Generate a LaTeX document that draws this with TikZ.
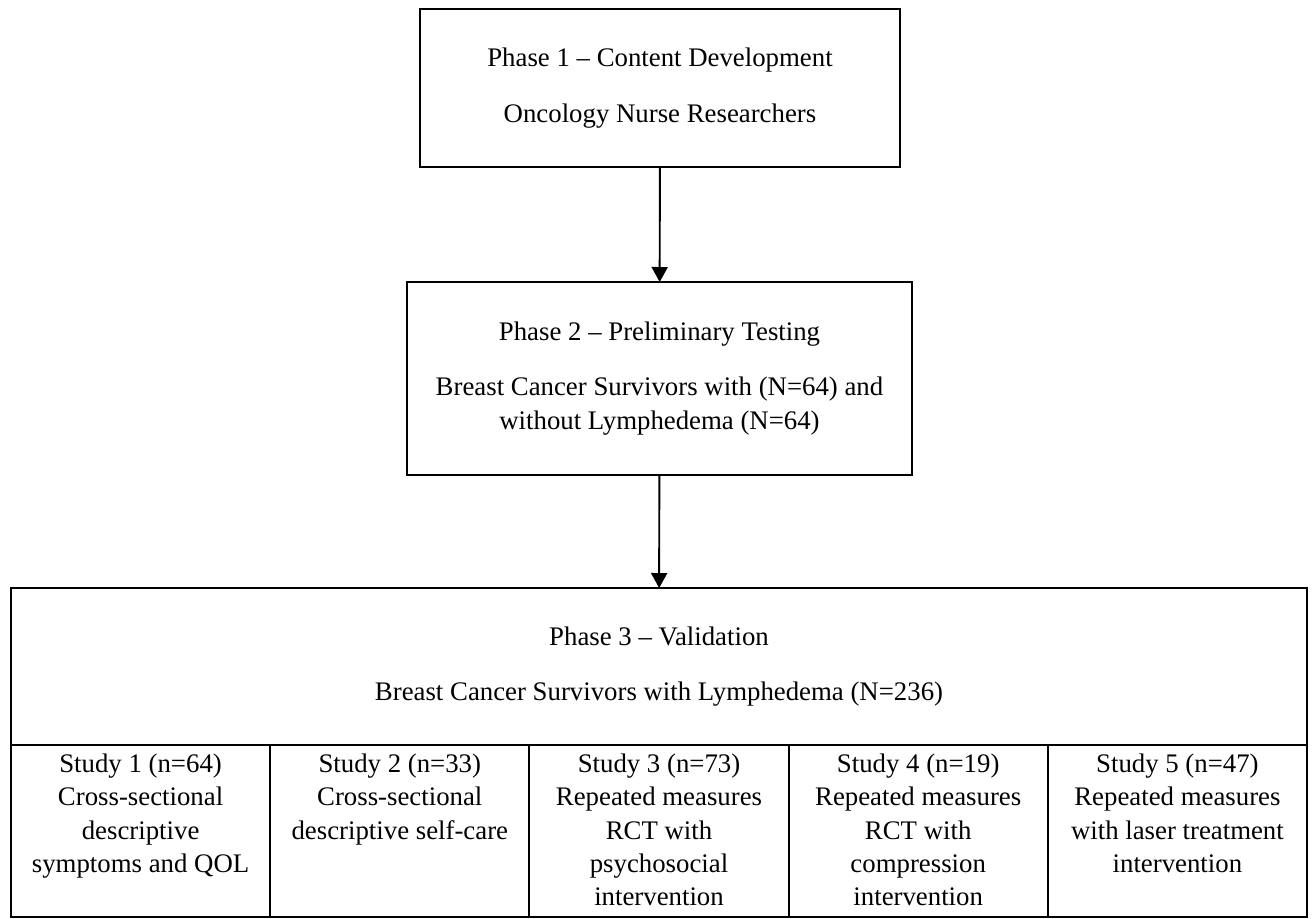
\documentclass[tikz,border=0pt]{standalone}
\usepackage{fontspec}
\setmainfont{Liberation Serif}
\usetikzlibrary{arrows.meta,positioning}

\newcommand{\studytext}[1]{\parbox[c][3.44cm][t]{5.1cm}{\centering\vspace*{5pt}#1}}

\begin{document}
\begin{tikzpicture}[-{Triangle[length=3mm,width=3.2mm]},line width=1.1pt,
font=\fontsize{15.25}{19}\selectfont]
\tikzstyle{phase}=[draw,line width=1.6pt,align=center,inner sep=0pt,outer sep=0pt]
\tikzstyle{study}=[draw,line width=1.2pt,inner sep=0pt,outer sep=0pt,
minimum width=5.184cm,minimum height=3.44cm]

\useasboundingbox (0,0) rectangle (26.28,-18.36);

\node[phase,minimum width=9.6cm,minimum height=3.16cm]  (dev)   at (13.2,-1.76)
{Phase 1 -- Content Development\\[12.5pt] Oncology Nurse Researchers};
\node[phase,minimum width=10.1cm,minimum height=3.86cm] (test)  at (13.19,-7.57)
{Phase 2 -- Preliminary Testing\\[12.5pt] Breast Cancer Survivors with (N=64) and\\ without Lymphedema (N=64)};
\node[phase,line width=1.2pt,minimum width=25.92cm,minimum height=3.14cm] (valid) at (13.18,-13.33)
{Phase 3 -- Validation\\[12.5pt] Breast Cancer Survivors with Lymphedema (N=236)};

% studies under phase 3
\node[study,anchor=north west] (s1) at (valid.south west)
{\studytext{Study 1 (n=64)\\ Cross-sectional\\ descriptive\\ symptoms and QOL}};
\node[study,right=0pt of s1] (s2)
{\studytext{Study 2 (n=33)\\ Cross-sectional\\ descriptive self-care}};
\node[study,right=0pt of s2] (s3)
{\studytext{Study 3 (n=73)\\ Repeated measures\\ RCT with\\ psychosocial\\ intervention}};
\node[study,right=0pt of s3] (s4)
{\studytext{Study 4 (n=19)\\ Repeated measures\\ RCT with\\ compression\\ intervention}};
\node[study,right=0pt of s4] (s5)
{\studytext{Study 5 (n=47)\\ Repeated measures\\ with laser treatment\\ intervention}};

\draw (dev) -- (test);
\draw (test) -- (valid);
\end{tikzpicture}
\end{document}
